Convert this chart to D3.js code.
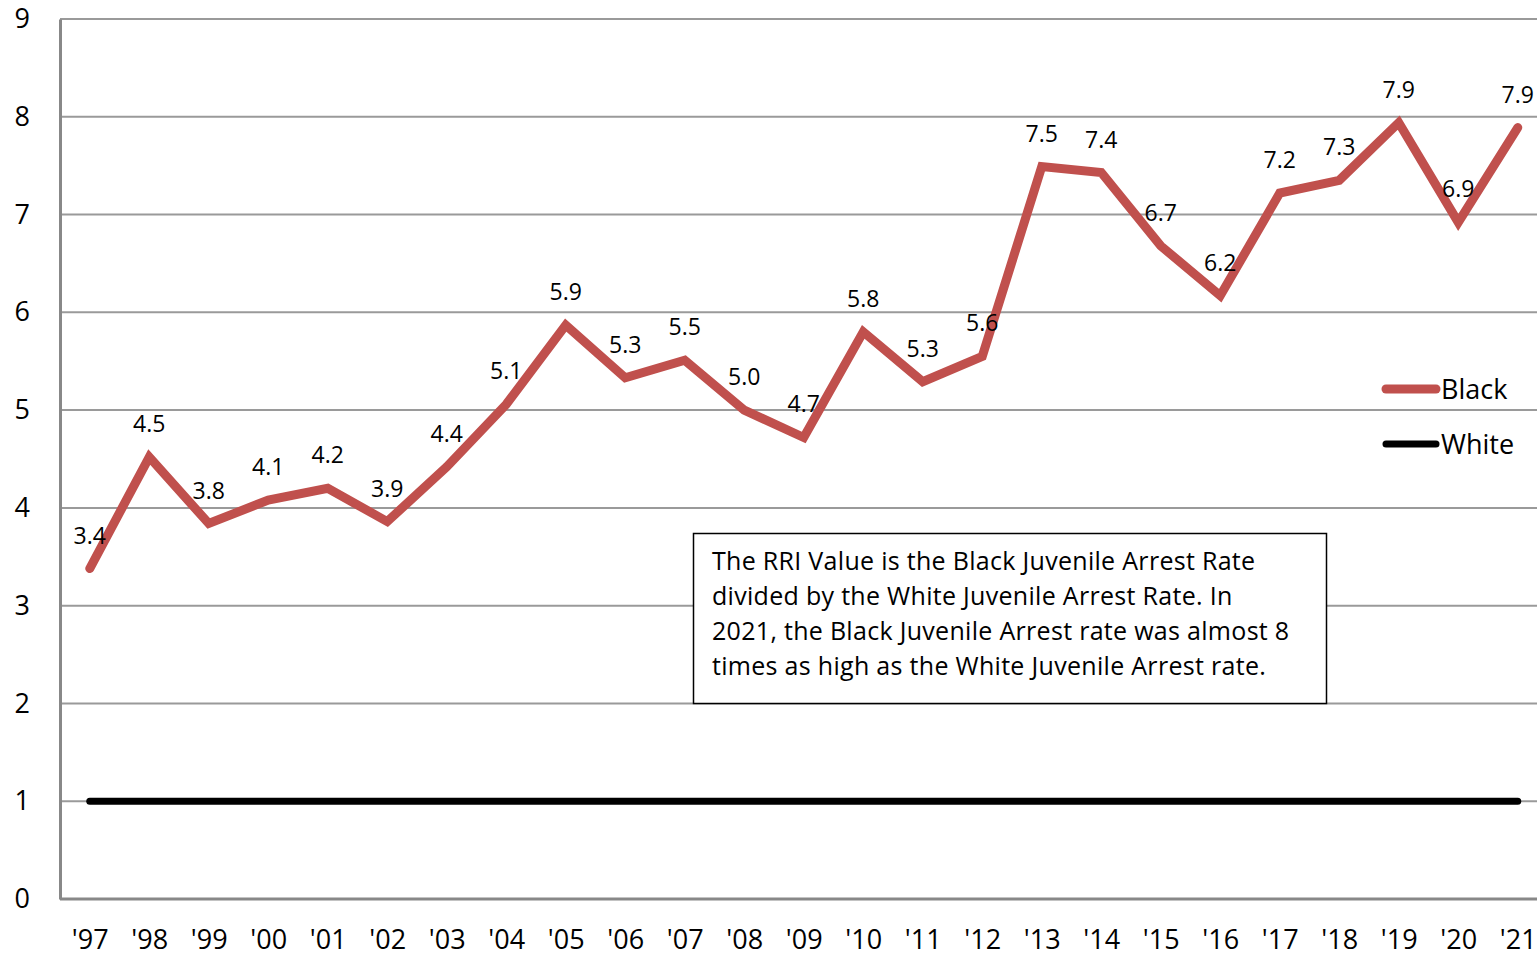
<!DOCTYPE html>
<html><head><meta charset="utf-8">
<script src="https://cdn.jsdelivr.net/npm/d3@7"></script>
<style>
html,body{margin:0;padding:0;background:#fff;}
svg{display:block;font-family:"Open Sans",sans-serif;}
</style></head><body>
<svg id="c" width="1537" height="957"></svg>
<script>
const years = ["'97","'98","'99","'00","'01","'02","'03","'04","'05","'06","'07","'08","'09","'10","'11","'12","'13","'14","'15","'16","'17","'18","'19","'20","'21"];
const blackValues = [3.38,4.52,3.84,4.08,4.2,3.86,4.42,5.06,5.87,5.33,5.51,5.0,4.72,5.8,5.29,5.55,7.49,7.43,6.68,6.17,7.22,7.35,7.94,6.92,7.89];
const blackLabels = ["3.4","4.5","3.8","4.1","4.2","3.9","4.4","5.1","5.9","5.3","5.5","5.0","4.7","5.8","5.3","5.6","7.5","7.4","6.7","6.2","7.2","7.3","7.9","6.9","7.9"];
const whiteValues = years.map(() => 1);
const yTicks = [0,1,2,3,4,5,6,7,8,9];
const seriesNames = ["Black","White"];
const seriesColors = ["#C0504D","#000000"];
const noteLines = ["The RRI Value is the Black Juvenile Arrest Rate","divided by the White Juvenile Arrest Rate. In","2021, the Black Juvenile Arrest rate was almost 8","times as high as the White Juvenile Arrest rate."];

const FONT = "'Open Sans',sans-serif";
const svg = d3.select("#c");
const x = d3.scalePoint().domain(years).range([60,1547.5]).padding(0.5);
const y = d3.scaleLinear().domain([0,9]).range([899,19]);

// gridlines
svg.append("g").selectAll("line").data(yTicks.filter(d=>d>0)).join("line")
  .attr("x1",60).attr("x2",1537).attr("y1",d=>y(d)).attr("y2",d=>y(d))
  .attr("stroke","#9a9a9a").attr("stroke-width",2);

// axes
const yAxis = svg.append("g").attr("transform","translate(60,0)")
  .call(d3.axisLeft(y).tickValues(yTicks).tickSize(0).tickPadding(30).tickFormat(d3.format("d")));
yAxis.select(".domain").attr("stroke","#888").attr("stroke-width",3);
yAxis.selectAll("text").attr("font-size",27).attr("fill","#000").attr("font-family",FONT);

const xAxis = svg.append("g").attr("transform","translate(0,899)")
  .call(d3.axisBottom(x).tickSize(0).tickPadding(31));
xAxis.select(".domain").attr("d","M60,0H1537").attr("stroke","#888").attr("stroke-width",3);
xAxis.selectAll("text").attr("font-size",27).attr("fill","#000").attr("font-family",FONT);

// lines
const line = d3.line().x((d,i)=>x(years[i])).y(d=>y(d));
svg.append("path").datum(whiteValues).attr("d",line).attr("fill","none")
  .attr("stroke",seriesColors[1]).attr("stroke-width",7).attr("stroke-linecap","round");
svg.append("path").datum(blackValues).attr("d",line).attr("fill","none")
  .attr("stroke",seriesColors[0]).attr("stroke-width",9).attr("stroke-linecap","round").attr("stroke-linejoin","miter");

// data labels
svg.append("g").selectAll("text").data(blackValues).join("text")
  .attr("x",(d,i)=>x(years[i])).attr("y",d=>y(d)-25)
  .attr("text-anchor","middle").attr("font-size",23).attr("fill","#000")
  .text((d,i)=>blackLabels[i]);

// legend
const leg = svg.append("g");
seriesNames.forEach((n,i)=>{
  const ly = 389 + i*55;
  leg.append("line").attr("x1",1386).attr("x2",1436).attr("y1",ly).attr("y2",ly)
    .attr("stroke",seriesColors[i]).attr("stroke-width",i===0?9:7).attr("stroke-linecap","round");
  leg.append("text").attr("x",1441).attr("y",ly+10).attr("font-size",27).attr("fill","#000").text(n);
});

// annotation box
svg.append("rect").attr("x",693.5).attr("y",533.5).attr("width",633).attr("height",170)
  .attr("fill","#fff").attr("stroke","#000").attr("stroke-width",1.5);
svg.append("g").selectAll("text").data(noteLines).join("text")
  .attr("x",712).attr("y",(d,i)=>570+i*35).attr("font-size",25).attr("letter-spacing",0.3).attr("fill","#000").text(d=>d);
</script></body></html>
